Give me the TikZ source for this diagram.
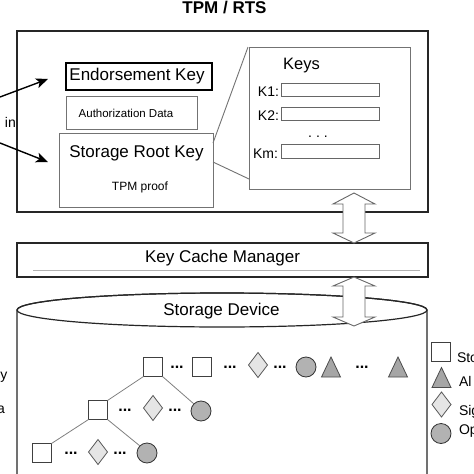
\documentclass[tikz,border=0pt]{standalone}
\usepackage{fontspec}
\setmainfont{Liberation Sans}
\usetikzlibrary{shapes.geometric,arrows.meta,calc}
\newcommand\fsz[1]{\fontsize{#1}{#1}\selectfont}
\begin{document}
\begin{tikzpicture}[x=1pt,y=-1pt,
  every node/.style={inner sep=0pt,outer sep=0pt},
  mainbox/.style={draw=black!85,line width=1.2pt},
  graybox/.style={draw=black!55,line width=0.9pt},
  ekbox/.style={draw=black,line width=1.6pt},
  rowbox/.style={draw=black!60,line width=0.9pt,minimum width=98pt,minimum height=13pt},
  sq/.style={draw=black!75,fill=white,minimum size=19pt,line width=0.8pt},
  dia/.style={diamond,draw=black!65,fill=black!10,minimum width=19pt,minimum height=25pt,line width=0.8pt},
  circ/.style={circle,draw=black!80,fill=black!30,minimum size=20pt,line width=0.8pt},
  dots/.style={font=\fsz{16}\bfseries},
  treeline/.style={draw=black!50,line width=0.8pt},
  dblarr/.style={draw=black!60,fill=white,line width=0.9pt,line join=miter},
  bigarrow/.style={draw=black,line width=1.4pt,-{Stealth[length=12pt,width=10pt,inset=3pt]}},
  legtri/.pic={\draw[draw=black!70,fill=black!35,line width=0.8pt,line join=miter] (-9.5,10) -- (0,-10) -- (9.5,10) -- cycle;}
]
\useasboundingbox (0,0) rectangle (474,474);
\fill[white] (0,0) rectangle (474,474);

% title
\node[anchor=base,font=\fsz{17}\bfseries] (title) at (224.5,13) {TPM / RTS};

% TPM box
\node[mainbox,minimum width=411pt,minimum height=181pt] (tpm) at (222.5,121.5) {};
\node[ekbox,minimum width=146pt,minimum height=27pt] (ek) at (139,76.5) {};
\node[anchor=base,font=\fsz{17}] (ekt) at (137,80) {Endorsement Key};
\node[graybox,minimum width=131pt,minimum height=33pt] (ad) at (131.5,112.5) {};
\node[anchor=base,font=\fsz{11.5}] (adt) at (126,117) {Authorization Data};
\node[graybox,minimum width=154pt,minimum height=74pt] (srk) at (136,170) {};
\node[anchor=base,font=\fsz{17}] (srkt) at (136.5,157) {Storage Root Key};
\node[anchor=base,font=\fsz{12}] (tpp) at (140,190) {TPM proof};

% Keys box
\node[graybox,minimum width=161pt,minimum height=142pt] (keys) at (329.5,118) {};
\node[anchor=base,font=\fsz{16.5}] (keyst) at (301.5,69) {Keys};
\node[rowbox] (k1) at (330,89.5) {};
\node[rowbox] (k2) at (330,114) {};
\node[rowbox,minimum height=14pt] (km) at (330,151) {};
\node[anchor=base east,font=\fsz{14}] (k1t) at (279,96) {K1:};
\node[anchor=base east,font=\fsz{14}] (k2t) at (279,120) {K2:};
\node[anchor=base east,font=\fsz{14}] (kmt) at (278,158) {Km:};
\node[font=\fsz{14}] (kdots) at (318,137) {.\hspace{4pt}.\hspace{4pt}.};
\draw[draw=black!55,line width=0.9pt] ($(srk.north east)+(0,10)$) -- ($(keys.north west)+(-1,0)$);
\draw[draw=black!55,line width=0.9pt] ($(srk.north east)+(0,29)$) -- ($(keys.south west)+(0,-10)$);

% left arrows and cut texts
\coordinate (l1s) at (0,97);
\coordinate (l1e) at (48,79);
\coordinate (l2s) at (0,143);
\coordinate (l2e) at (48,162);
\draw[bigarrow] (l1s) -- (l1e);
\draw[bigarrow] (l2s) -- (l2e);
\node[anchor=base west,font=\fsz{14}] (intx) at (5,127) {in};
\node[anchor=base east,font=\fsz{14}] (ytx) at (7.5,379) {y};
\node[anchor=base east,font=\fsz{14}] (atx) at (5,413) {a};

% Key cache manager
\node[mainbox,minimum width=411pt,minimum height=34pt] (kcm) at (222.5,260) {};
\node[anchor=base,font=\fsz{17}] (kcmt) at (222.5,262) {Key Cache Manager};
\draw[draw=black!30,line width=1pt] (33,270) -- (420,270);

% storage device cylinder
\draw[line width=1.2pt,draw=black!85] (17,480) -- (17,310) arc[start angle=180,end angle=360,x radius=205,y radius=17] -- (427,480);
\draw[line width=1.2pt,draw=black!85] (222,310) ellipse[x radius=205,y radius=17];
\node[anchor=base,font=\fsz{17}] (sdt) at (221.5,315) {Storage Device};

% double arrows
\coordinate (a1t) at (354,193);
\draw[dblarr] (a1t) -- ++(21,11) -- ++(-10,0) -- ++(0,29) -- ++(10,0) -- ++(-21,10) -- ++(-21,-10) -- ++(10,0) -- ++(0,-29) -- ++(-10,0) -- cycle;
\coordinate (a2t) at (354,277);
\draw[dblarr] (a2t) -- ++(21,9) -- ++(-10,0) -- ++(0,31) -- ++(10,0) -- ++(-21,9) -- ++(-21,-9) -- ++(10,0) -- ++(0,-31) -- ++(-10,0) -- cycle;

% tree row 1
\node[sq] (r1a) at (153,367) {};
\node[dots] (r1d1) at (177,367) {...};
\node[sq] (r1b) at (202,367) {};
\node[dots] (r1d2) at (230,367) {...};
\node[dia] (r1c) at (258,365) {};
\node[dots] (r1d3) at (280,367) {...};
\node[circ] (r1e) at (306,367) {};
\pic at (331,367) {legtri};
\node[dots] (r1d4) at (362,367) {...};
\pic at (398,367) {legtri};
% row 2
\node[sq] (r2a) at (98,410) {};
\node[dots] (r2d1) at (125,410) {...};
\node[dia] (r2b) at (153,408) {};
\node[dots] (r2d2) at (175,410) {...};
\node[circ] (r2c) at (201,411) {};
% row 3
\node[sq] (r3a) at (42,453) {};
\node[dots] (r3d1) at (71,453) {...};
\node[dia] (r3b) at (98,452) {};
\node[dots] (r3d2) at (120,453) {...};
\node[circ] (r3c) at (147,453) {};
% tree lines
\draw[treeline] (r1a.south west) -- (r2a.north east);
\draw[treeline] (r1a.south east) -- (r2c.north west);
\draw[treeline] (r2a.south west) -- (r3a.north east);
\draw[treeline] (r2a.south east) -- (r3c.north west);

% legend
\node[sq] (lg1) at (441,352) {};
\pic at (441.5,377.5) {legtri};
\node[dia,minimum height=25pt] (lg3) at (441.5,404.5) {};
\node[circ] (lg4) at (441,433.5) {};
\node[anchor=base west,font=\fsz{14}] (lt1) at (457,362) {Sto};
\node[anchor=base west,font=\fsz{14}] (lt2) at (459,386) {Al};
\node[anchor=base west,font=\fsz{14}] (lt3) at (459,415) {Sig};
\node[anchor=base west,font=\fsz{14}] (lt4) at (459,434) {Op};
\end{tikzpicture}
\end{document}
